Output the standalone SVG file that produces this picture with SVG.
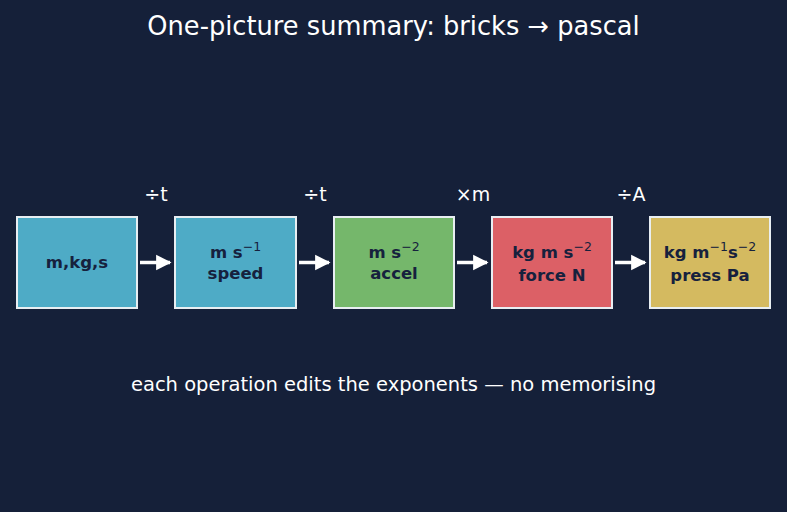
<svg xmlns="http://www.w3.org/2000/svg" width="787" height="512" viewBox="0 0 787 512">
<defs>
<style>
.t{font-family:"DejaVu Sans","Liberation Sans",sans-serif;fill:#ffffff}
.box{stroke:#e8eef2;stroke-width:2}
.lbl{font-family:"DejaVu Sans","Liberation Sans",sans-serif;font-weight:bold;font-size:16.5px;fill:#16213d;text-anchor:middle}
.sup{font-weight:normal;font-size:12.5px}
.op{font-size:19px;text-anchor:middle}
.conn{stroke:#ffffff;stroke-width:3.5;fill:none;marker-end:url(#ah)}
</style>
<marker id="ah" viewBox="0 0 10 10" refX="9" refY="5" markerWidth="4.4" markerHeight="4.6" orient="auto" markerUnits="strokeWidth">
<path d="M0,0 L10,5 L0,10 z" fill="#ffffff"/>
</marker>
</defs>
<rect width="787" height="512" fill="#152039"/>
<text class="t" x="393.5" y="35" font-size="25.7" text-anchor="middle">One-picture summary: bricks → pascal</text>

<g id="connectors">
<line class="conn" x1="140" y1="262.5" x2="170" y2="262.5"/>
<line class="conn" x1="299" y1="262.5" x2="329" y2="262.5"/>
<line class="conn" x1="457" y1="262.5" x2="487" y2="262.5"/>
<line class="conn" x1="615" y1="262.5" x2="645" y2="262.5"/>
<text class="t op" x="156" y="201">÷t</text>
<text class="t op" x="315" y="201">÷t</text>
<text class="t op" x="473" y="201">×m</text>
<text class="t op" x="631" y="201">÷A</text>
</g>

<g id="n1">
<rect class="box" x="17" y="217" width="120" height="91" fill="#4eabc6"/>
<text class="lbl" x="77" y="268">m,kg,s</text>
</g>
<g id="n2">
<rect class="box" x="175" y="217" width="121" height="91" fill="#4eabc6"/>
<text class="lbl" x="235.5" y="258">m s<tspan class="sup" dy="-7">−1</tspan></text>
<text class="lbl" x="235.5" y="279">speed</text>
</g>
<g id="n3">
<rect class="box" x="334" y="217" width="120" height="91" fill="#75b76b"/>
<text class="lbl" x="394" y="258">m s<tspan class="sup" dy="-7">−2</tspan></text>
<text class="lbl" x="394" y="279">accel</text>
</g>
<g id="n4">
<rect class="box" x="492" y="217" width="120" height="91" fill="#dc6066"/>
<text class="lbl" x="552" y="258">kg m s<tspan class="sup" dy="-7">−2</tspan></text>
<text class="lbl" x="552" y="281">force N</text>
</g>
<g id="n5">
<rect class="box" x="650" y="217" width="120" height="91" fill="#d4ba60"/>
<text class="lbl" x="710" y="258">kg m<tspan class="sup" dy="-7">−1</tspan><tspan dy="7">s</tspan><tspan class="sup" dy="-7">−2</tspan></text>
<text class="lbl" x="710" y="281">press Pa</text>
</g>

<text class="t" x="393.5" y="391" font-size="19.5" text-anchor="middle">each operation edits the exponents — no memorising</text>
</svg>
